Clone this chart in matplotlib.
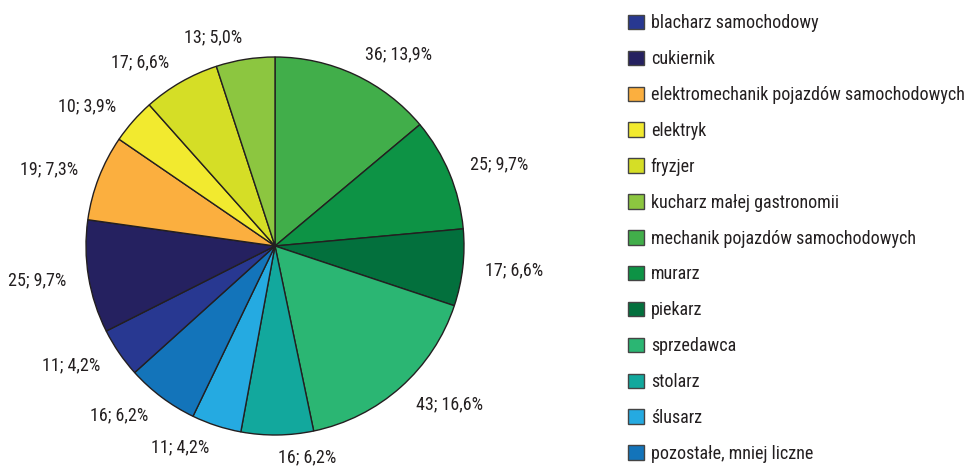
import matplotlib

matplotlib.use("Agg")
import matplotlib.pyplot as plt
from matplotlib import font_manager
from matplotlib.patches import Patch

# legend order
categories = [
    "blacharz samochodowy",
    "cukiernik",
    "elektromechanik pojazdów samochodowych",
    "elektryk",
    "fryzjer",
    "kucharz małej gastronomii",
    "mechanik pojazdów samochodowych",
    "murarz",
    "piekarz",
    "sprzedawca",
    "stolarz",
    "ślusarz",
    "pozostałe, mniej liczne",
]
counts = [11, 25, 19, 10, 17, 13, 36, 25, 17, 43, 16, 11, 16]
percents = ["4,2", "9,7", "7,3", "3,9", "6,6", "5,0", "13,9", "9,7", "6,6", "16,6", "6,2", "4,2", "6,2"]
colors = [
    "#283891", "#252160", "#FBAF3F", "#F2EA2F", "#D5DE26", "#8CC640", "#41AE4A",
    "#0D9345", "#03703D", "#2BB673", "#12A89D", "#25AAE1", "#1374BA",
]
# pie starts at the top with "mechanik" and runs clockwise
pie_start = 6

names = {f.name for f in font_manager.fontManager.ttflist}
family = next(
    (f for f in ["Roboto Condensed", "Archivo Narrow", "PT Sans Narrow", "Liberation Sans Narrow"] if f in names),
    "DejaVu Sans",
)
plt.rcParams["font.family"] = [family, "DejaVu Sans"]
FS = 13 if family != "DejaVu Sans" else 10
TEXT = "#231F20"

order = list(range(pie_start, len(categories))) + list(range(pie_start))
vals = [counts[i] for i in order]
cols = [colors[i] for i in order]
labels = [f"{counts[i]}; {percents[i]}%" for i in order]

W, H = 973, 468
fig = plt.figure(figsize=(W / 100, H / 100), dpi=100)
cx, cy, r = 275, 246, 189
ax = fig.add_axes([(cx - r) / W, (H - cy - r) / H, 2 * r / W, 2 * r / H])
wedges, texts = ax.pie(
    vals,
    colors=cols,
    labels=labels,
    startangle=90,
    counterclock=False,
    labeldistance=1.12,
    wedgeprops={"edgecolor": TEXT, "linewidth": 1.0},
    textprops={"fontsize": FS, "color": TEXT},
)
ax.set_xlim(-1, 1)
ax.set_ylim(-1, 1)
ax.axis("off")

handles = [Patch(facecolor=c, edgecolor="#444444", linewidth=1.0) for c in colors]
fig.legend(
    handles,
    categories,
    loc="upper left",
    bbox_to_anchor=(621 / W, 1 - 7 / H),
    frameon=False,
    fontsize=FS,
    handlelength=0.85,
    handleheight=0.85,
    handletextpad=0.4,
    labelspacing=0.99,
    labelcolor=TEXT,
    borderaxespad=0,
)

fig.savefig("out.png", dpi=100)
